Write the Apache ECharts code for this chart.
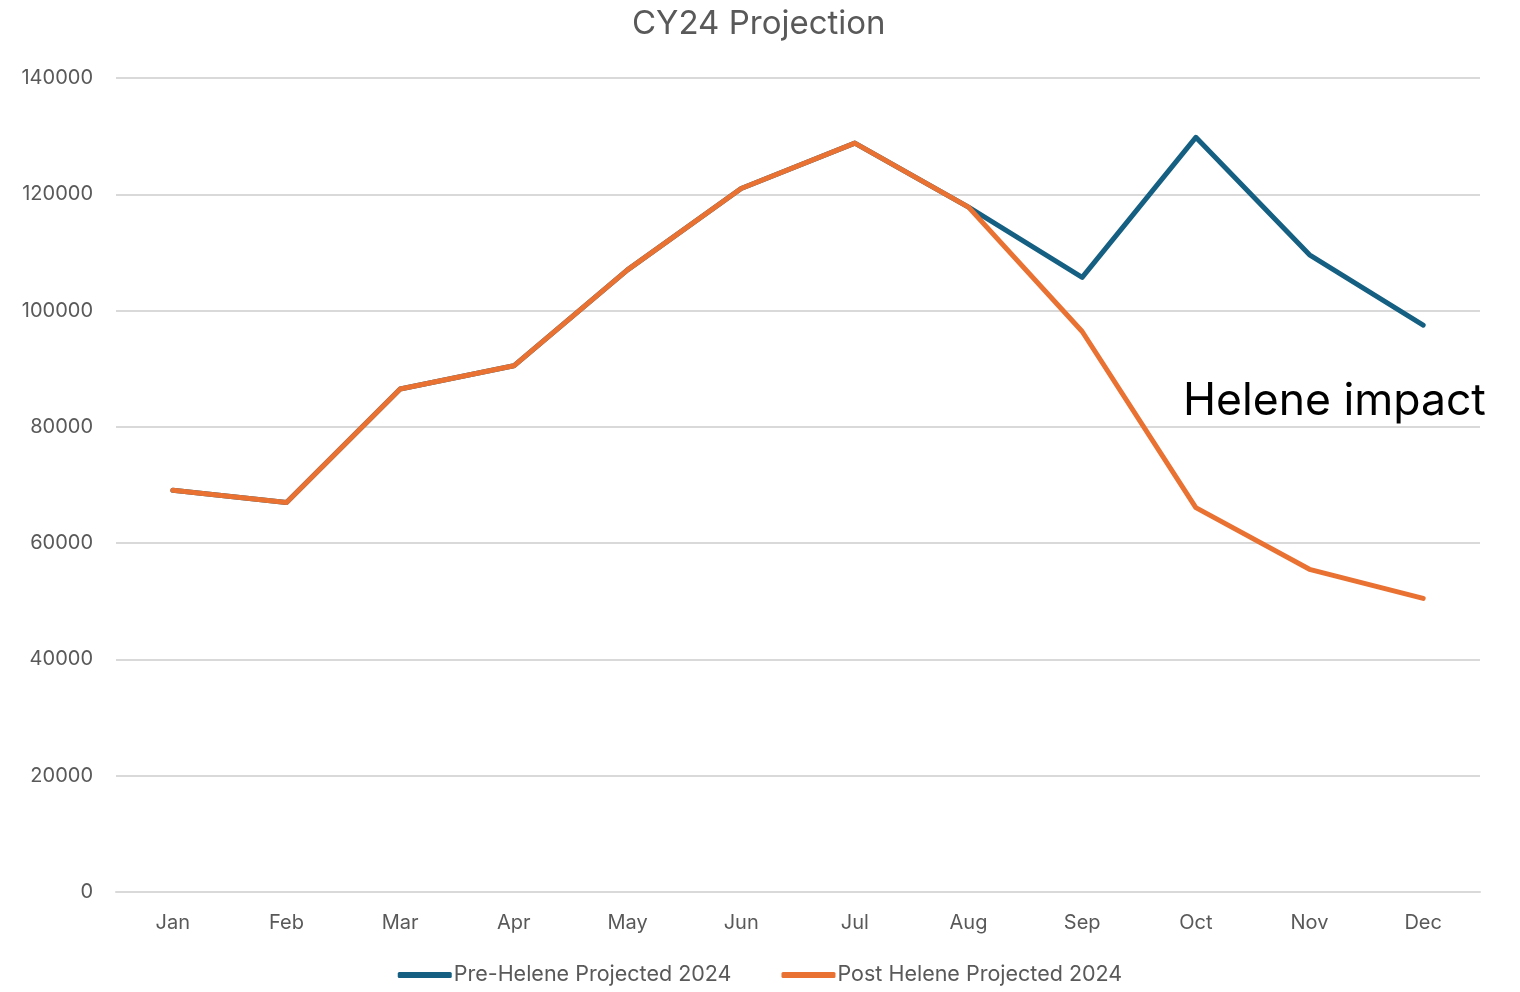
<!DOCTYPE html>
<html>
<head>
<meta charset="utf-8">
<script src="https://cdn.jsdelivr.net/npm/echarts@6/dist/echarts.min.js"></script>
<style>
  html, body { margin: 0; padding: 0; background: #fff; }
  #chart { width: 1520px; height: 992px; }
</style>
</head>
<body>
<div id="chart"></div>
<script>
  // data
  var months = ['Jan', 'Feb', 'Mar', 'Apr', 'May', 'Jun', 'Jul', 'Aug', 'Sep', 'Oct', 'Nov', 'Dec'];
  var preHelene = [69100, 67000, 86500, 90500, 107000, 121000, 128800, 117800, 105700, 129800, 109600, 97500];
  var postHelene = [69100, 67000, 86500, 90500, 107000, 121000, 128800, 117800, 96400, 66100, 55500, 50500];
  var seriesNames = ['Pre-Helene Projected 2024', 'Post Helene Projected 2024'];

  var font = 'Inter, "Noto Sans", sans-serif';
  var myChart = echarts.init(document.getElementById('chart'));
  myChart.setOption({
    animation: false,
    title: {
      text: 'CY24 Projection',
      left: 627,
      top: 3,
      textStyle: { fontFamily: font, fontSize: 33, fontWeight: 'normal', color: '#595959' }
    },
    legend: {
      bottom: 1,
      left: 'center',
      icon: 'roundRect',
      itemWidth: 54,
      itemHeight: 6,
      itemGap: 50,
      textStyle: { fontFamily: font, fontSize: 21.5, color: '#595959', padding: [0, 0, 0, -3] },
      data: seriesNames
    },
    grid: { left: 116, right: 40, top: 78, bottom: 100 },
    xAxis: {
      type: 'category',
      data: months,
      boundaryGap: true,
      axisLine: { lineStyle: { color: '#d9d9d9', width: 2 } },
      axisTick: { show: false },
      axisLabel: { fontFamily: font, fontSize: 20, color: '#595959', margin: 21 }
    },
    yAxis: {
      type: 'value',
      min: 0,
      max: 140000,
      interval: 20000,
      axisLine: { show: false },
      axisTick: { show: false },
      splitLine: { lineStyle: { color: '#d9d9d9', width: 2 } },
      axisLabel: {
        fontFamily: font, fontSize: 20, color: '#595959', margin: 23,
        formatter: function (v) { return String(v); }
      }
    },
    graphic: [{
      type: 'text',
      left: 1183,
      top: 379,
      style: { text: 'Helene impact', fontFamily: font, fontSize: 44.5, fill: '#000' }
    }],
    series: [
      {
        name: seriesNames[0],
        type: 'line',
        data: preHelene,
        symbol: 'none',
        itemStyle: { color: '#156082' },
        lineStyle: { color: '#156082', width: 5, cap: 'round', join: 'round' }
      },
      {
        name: seriesNames[1],
        type: 'line',
        data: postHelene,
        symbol: 'none',
        itemStyle: { color: '#E97132' },
        lineStyle: { color: '#E97132', width: 5, cap: 'round', join: 'round' }
      }
    ]
  });
</script>
</body>
</html>
